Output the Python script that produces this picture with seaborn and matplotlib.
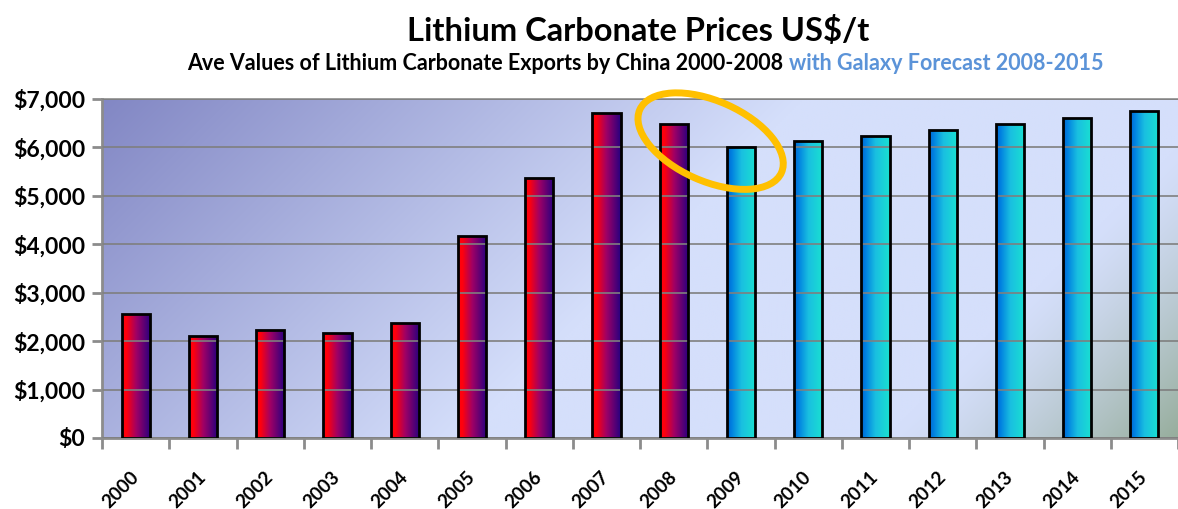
import numpy as np
import pandas as pd
import matplotlib.pyplot as plt
import matplotlib.transforms as mtransforms
from matplotlib.patches import Ellipse
import seaborn as sns

# Data
years = ['2000', '2001', '2002', '2003', '2004', '2005', '2006', '2007',
         '2008', '2009', '2010', '2011', '2012', '2013', '2014', '2015']
prices = [2570, 2110, 2240, 2160, 2370, 4170, 5370, 6720,
          6490, 6000, 6130, 6240, 6350, 6490, 6610, 6750]
period = ['Actual'] * 9 + ['Forecast'] * 7
y_ticks = [0, 1000, 2000, 3000, 4000, 5000, 6000, 7000]
y_labels = ['\\$0', '\\$1,000', '\\$2,000', '\\$3,000', '\\$4,000',
            '\\$5,000', '\\$6,000', '\\$7,000']

df = pd.DataFrame({'year': years, 'price': prices, 'period': period})

sns.set_style('white')
plt.rcParams['font.family'] = ['Lato', 'DejaVu Sans']
plt.rcParams['text.color'] = 'black'

fig = plt.figure(figsize=(11.78, 5.09), dpi=100)
ax = fig.add_axes([0.0866, 0.1395, 0.9134, 0.666])

sns.barplot(data=df, x='year', y='price', color='red', width=0.42,
            edgecolor='black', linewidth=2, ax=ax, zorder=3)

ax.set_xlim(-0.5, 15.5)
ax.set_ylim(0, 7000)

# background gradient of the plot area
W, H = 540, 170
xx, yy = np.meshgrid(np.linspace(0, 1076, W), np.linspace(0, 339, H))
s = np.clip((xx + yy) / 700.0, 0, 1)
c0 = np.array([130, 135, 196]) / 255
c1 = np.array([213, 223, 251]) / 255
bg = c0[None, None, :] * (1 - s[..., None]) + c1[None, None, :] * s[..., None]
# greyish-green tint in the bottom-right corner
dg = ((1076 - xx) + (339 - yy)) / 290.0
g = np.clip(1 - dg, 0, 1) ** 1.3 * 0.85
c2 = np.array([140, 165, 140]) / 255
bg = bg * (1 - g[..., None]) + c2[None, None, :] * g[..., None]
ax.imshow(bg, extent=[0, 1, 0, 1], transform=ax.transAxes, aspect='auto',
          zorder=0, interpolation='bilinear')
ax.set_facecolor('none')

# gradient fill inside each bar
grad = np.linspace(0, 1, 64)
red_stops = np.array([[1.0, 0.0, 0.05], [1.0, 0.0, 0.05], [0.62, 0.0, 0.4], [0.15, 0.0, 0.5]])
blu_stops = np.array([[0.0, 0.4, 0.82], [0.0, 0.5, 0.88], [0.1, 0.75, 0.88], [0.1, 0.88, 0.82]])
stop_pos = [0.0, 0.15, 0.5, 1.0]
for patch, per in zip(ax.patches, period):
    x0, y0 = patch.get_x(), patch.get_y()
    w, h = patch.get_width(), patch.get_height()
    stops = red_stops if per == 'Actual' else blu_stops
    img = np.stack([np.interp(grad, stop_pos, stops[:, k]) for k in range(3)], axis=-1)[None, :, :]
    im = ax.imshow(img, extent=[x0, x0 + w, y0, y0 + h], aspect='auto',
                   zorder=2, interpolation='bilinear')
    im.set_clip_path(patch)
    patch.set_facecolor('none')

ax.set_xlim(-0.5, 15.5)
ax.set_ylim(0, 7000)

# grid and axes
ax.set_axisbelow(False)
ax.yaxis.grid(True, color='#7f7f7f', linewidth=1.2, zorder=1)
ax.xaxis.grid(False)
ax.spines['right'].set_visible(False)
for sp in ['top', 'left', 'bottom']:
    ax.spines[sp].set_color('#8c8c8c')
ax.spines['left'].set_linewidth(2)
ax.spines['bottom'].set_linewidth(2)
ax.spines['top'].set_linewidth(1.2)

ax.set_yticks(y_ticks)
ax.set_yticklabels(y_labels, fontsize=16.5, fontweight='bold')
ax.tick_params(axis='y', length=7, width=2, color='#8c8c8c', pad=5, left=True,
               labelcolor='black')

ax.set_xticks(range(len(years)))
ax.set_xticklabels(years, rotation=45, ha='right', va='center',
                   rotation_mode='anchor', fontsize=13.5, fontweight='bold')
ax.tick_params(axis='x', length=0, pad=26, labelcolor='black')
ax.set_xticks(np.arange(-0.5, 15.6, 1), minor=True)
ax.tick_params(axis='x', which='minor', length=8, width=2, color='#8c8c8c',
               bottom=True)
ax.set_xlabel('')
ax.set_ylabel('')

# orange highlight ellipse around 2008-2009
tr = fig.dpi_scale_trans + mtransforms.ScaledTranslation(8.55, 6130, ax.transData)
ell = Ellipse((0, 0), 1.55, 0.8, angle=-24, transform=tr, fill=False,
              edgecolor='#ffc000', linewidth=5, zorder=6, clip_on=False)
ax.add_patch(ell)

# titles
fig.text(0.542, 0.94, 'Lithium Carbonate Prices US\\$/t', ha='center',
         va='center', fontsize=23.5, fontweight='bold', color='black')
t1 = fig.text(0.159, 0.875, 'Ave Values of Lithium Carbonate Exports by China 2000-2008 ',
              ha='left', va='center', fontsize=15.5, fontweight='bold', color='black')
ax.annotate('with Galaxy Forecast 2008-2015', xy=(1, 0), xycoords=t1,
            va='bottom', ha='left', fontsize=15.5, fontweight='bold',
            color='#5b93d8', annotation_clip=False)

fig.savefig('out.png', dpi=100)
